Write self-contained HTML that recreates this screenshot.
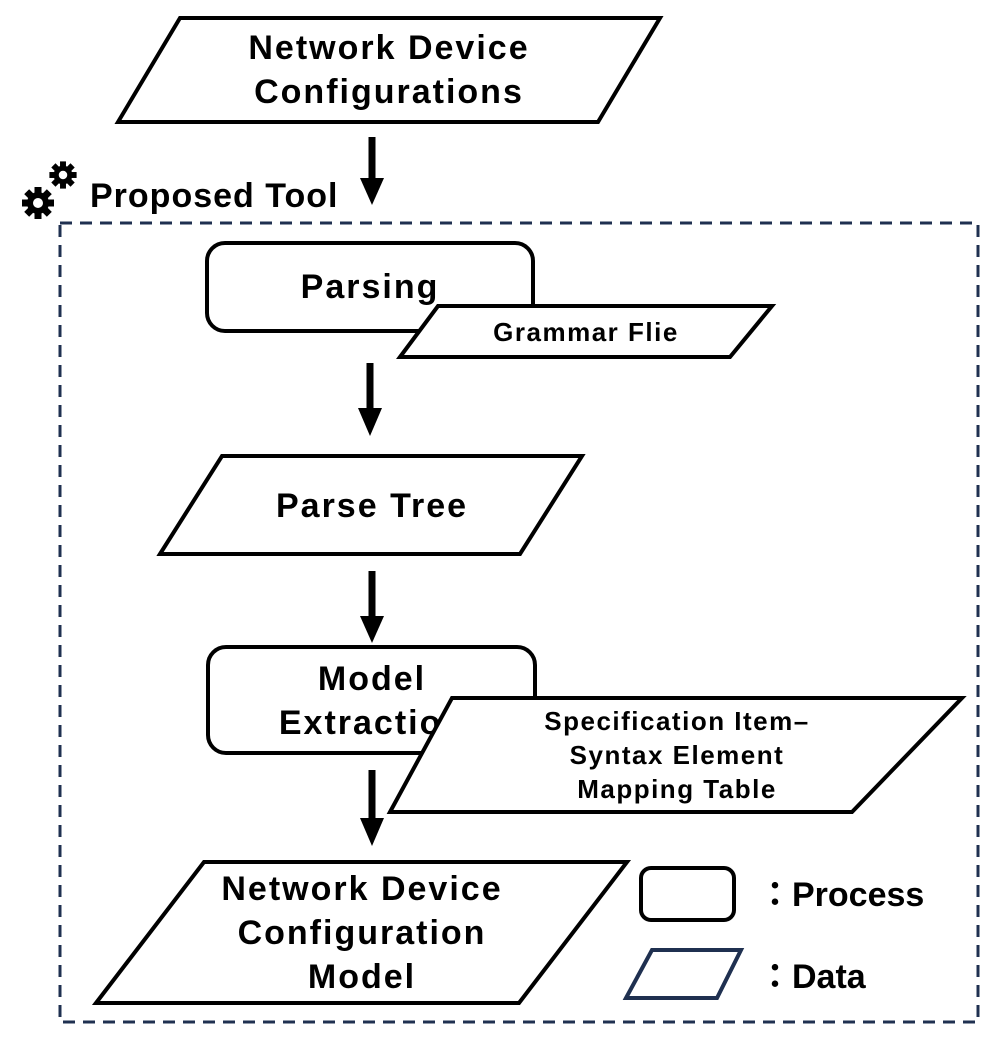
<!DOCTYPE html>
<html><head><meta charset="utf-8"><style>
html,body{margin:0;padding:0;background:#fff}
svg{display:block}
text{font-family:"Liberation Sans","Noto Sans CJK JP",sans-serif;font-weight:bold;fill:#000;text-anchor:middle}
.b{font-size:34px;letter-spacing:2px}
.s{font-size:26px;letter-spacing:1.5px}
</style></head><body>
<svg width="998" height="1041" viewBox="0 0 998 1041" xmlns="http://www.w3.org/2000/svg">
<defs>
<g id="gear">
<circle r="11" fill="#000"/>
<g fill="#000">
<rect x="-3.5" y="-16" width="7" height="32"/>
<rect x="-3.5" y="-16" width="7" height="32" transform="rotate(45)"/>
<rect x="-3.5" y="-16" width="7" height="32" transform="rotate(90)"/>
<rect x="-3.5" y="-16" width="7" height="32" transform="rotate(135)"/>
</g>
<circle r="5" fill="#fff"/>
</g>
</defs>
<polygon points="118,122 180,18 660,18 598,122" fill="#fff" stroke="#000" stroke-width="4"/>
<text x="389" y="59" class="b">Network Device</text>
<text x="389" y="103" class="b">Configurations</text>

<line x1="372" y1="137" x2="372" y2="180" stroke="#000" stroke-width="7"/>
<polygon points="360,178 384,178 372,205" fill="#000"/>

<use href="#gear" x="38" y="203"/>
<use href="#gear" x="63" y="175" transform="translate(63 175) scale(0.85) translate(-63 -175)"/>
<text x="90" y="207" class="b" style="text-anchor:start;letter-spacing:1px">Proposed Tool</text>

<rect x="60" y="223" width="918" height="799" fill="none" stroke="#1f3050" stroke-width="3" stroke-dasharray="12,8"/>

<rect x="207" y="243" width="326" height="88" rx="18" fill="#fff" stroke="#000" stroke-width="4"/>
<text x="370" y="298" class="b">Parsing</text>
<polygon points="400,357 438,306 772,306 730,357" fill="#fff" stroke="#000" stroke-width="4"/>
<text x="586" y="341" class="s">Grammar Flie</text>

<line x1="370" y1="363" x2="370" y2="410" stroke="#000" stroke-width="7"/>
<polygon points="358,408 382,408 370,436" fill="#000"/>

<polygon points="160,554 222,456 582,456 520,554" fill="#fff" stroke="#000" stroke-width="4"/>
<text x="372" y="517" class="b">Parse Tree</text>

<line x1="372" y1="571" x2="372" y2="618" stroke="#000" stroke-width="7"/>
<polygon points="360,616 384,616 372,643" fill="#000"/>

<rect x="208" y="647" width="327" height="106" rx="18" fill="#fff" stroke="#000" stroke-width="4"/>
<text x="372" y="690" class="b">Model</text>
<text x="372" y="734" class="b">Extraction</text>
<polygon points="390,812 452,698 962,698 852,812" fill="#fff" stroke="#000" stroke-width="4"/>
<text x="677" y="730" class="s">Specification Item–</text>
<text x="677" y="764" class="s">Syntax Element</text>
<text x="677" y="798" class="s">Mapping Table</text>

<line x1="372" y1="770" x2="372" y2="820" stroke="#000" stroke-width="7"/>
<polygon points="360,818 384,818 372,846" fill="#000"/>

<polygon points="96,1003 204,862 627,862 519,1003" fill="#fff" stroke="#000" stroke-width="4"/>
<text x="362" y="900" class="b">Network Device</text>
<text x="362" y="944" class="b">Configuration</text>
<text x="362" y="988" class="b">Model</text>

<rect x="641" y="868" width="93" height="52" rx="10" fill="#fff" stroke="#000" stroke-width="4"/>
<text x="758" y="906" class="b" style="text-anchor:start;letter-spacing:0">：Process</text>
<polygon points="626,998 652,950 741,950 717,998" fill="#fff" stroke="#1f3050" stroke-width="4"/>
<text x="758" y="988" class="b" style="text-anchor:start;letter-spacing:0">：Data</text>
</svg>
</body></html>
